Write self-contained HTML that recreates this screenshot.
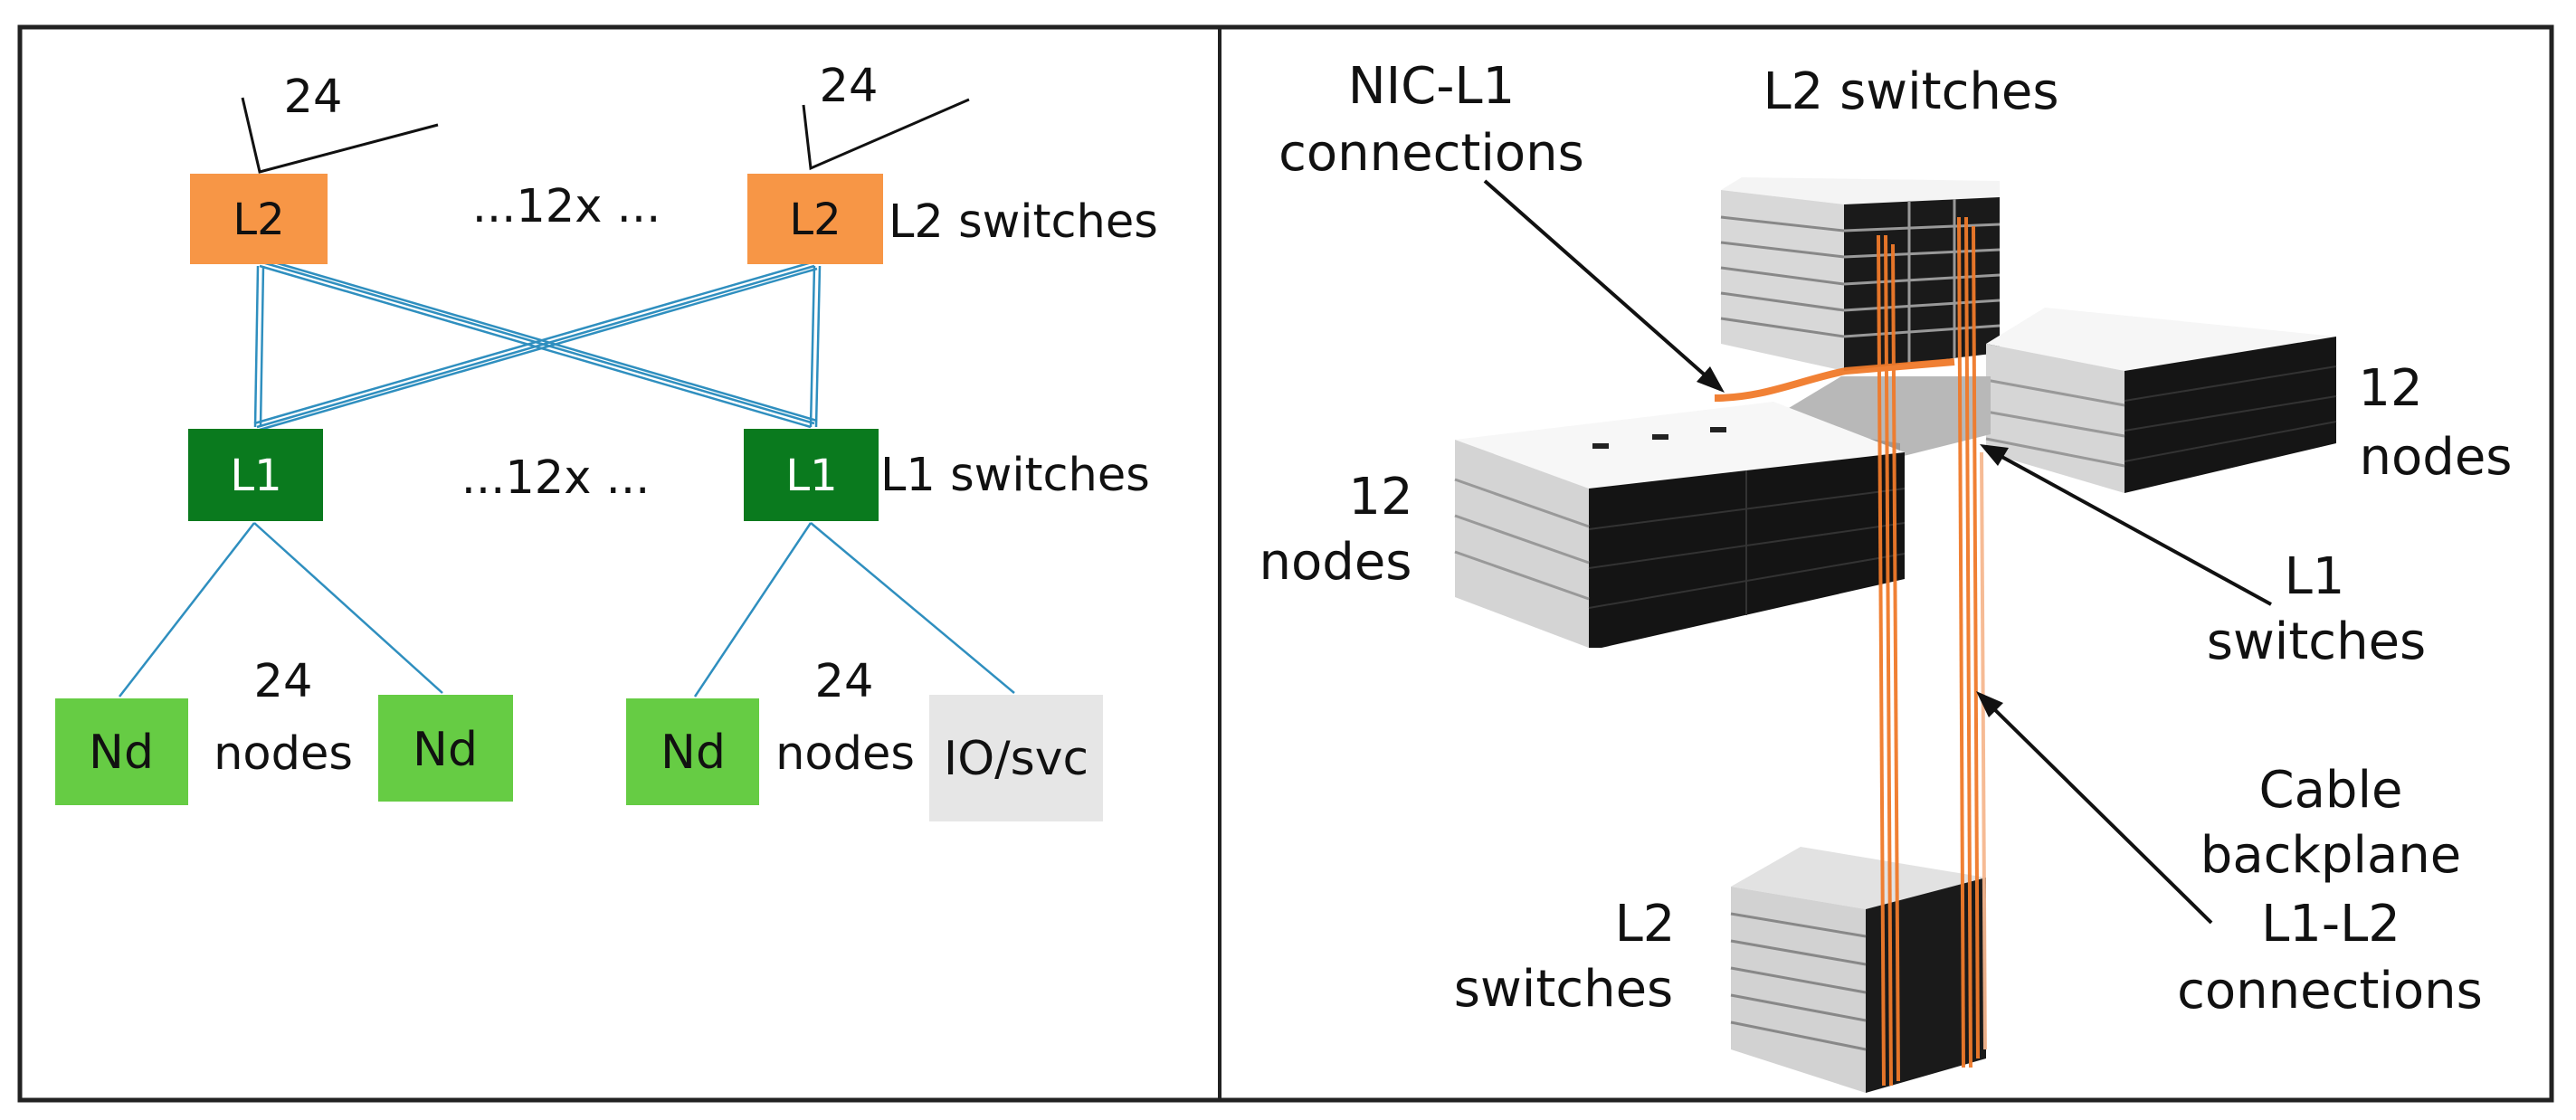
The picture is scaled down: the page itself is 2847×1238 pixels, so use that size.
<!DOCTYPE html>
<html><head><meta charset="utf-8"><style>
html,body{margin:0;padding:0;background:#fff;}
svg{display:block;}
text{font-family:"DejaVu Sans","Liberation Sans",sans-serif;fill:#111;}
</style></head><body>
<svg width="2847" height="1238" viewBox="0 0 2847 1238" xmlns="http://www.w3.org/2000/svg">
<rect x="0" y="0" width="2847" height="1238" fill="#fff"/>
<rect x="22" y="30" width="2798" height="1186" fill="none" stroke="#222" stroke-width="5"/>
<line x1="1348" y1="30" x2="1348" y2="1216" stroke="#222" stroke-width="4"/>

<!-- left panel -->
<g stroke="#111" stroke-width="3" fill="none">
<polyline points="268,108 287,190 484,138"/>
<polyline points="888,116 896,186 1071,110"/>
</g>
<g stroke="#2f8fbf" stroke-width="2.5" fill="none">
<line x1="285" y1="294" x2="282" y2="472"/><line x1="291" y1="294" x2="288" y2="472"/>
<line x1="900" y1="294" x2="896" y2="472"/><line x1="906" y1="294" x2="902" y2="472"/>
<line x1="287" y1="294" x2="896" y2="472"/><line x1="290" y1="290" x2="900" y2="468"/><line x1="293" y1="287" x2="903" y2="465"/>
<line x1="900" y1="294" x2="284" y2="472"/><line x1="897" y1="290" x2="281" y2="468"/><line x1="903" y1="297" x2="287" y2="475"/>
<line x1="281" y1="578" x2="132" y2="770"/><line x1="281" y1="578" x2="489" y2="766"/>
<line x1="896" y1="578" x2="768" y2="770"/><line x1="896" y1="578" x2="1121" y2="766"/>
</g>
<rect x="210" y="192" width="152" height="100" fill="#f79646"/>
<rect x="826" y="192" width="150" height="100" fill="#f79646"/>
<rect x="208" y="474" width="149" height="102" fill="#0a7a1e"/>
<rect x="822" y="474" width="149" height="102" fill="#0a7a1e"/>
<rect x="61" y="772" width="147" height="118" fill="#66cc44"/>
<rect x="418" y="768" width="149" height="118" fill="#66cc44"/>
<rect x="692" y="772" width="147" height="118" fill="#66cc44"/>
<rect x="1027" y="768" width="192" height="140" fill="#e6e6e6"/>
<g font-size="48" text-anchor="middle">
<text x="286" y="259">L2</text><text x="901" y="259">L2</text>
<text x="283" y="542" style="fill:#fff">L1</text><text x="897" y="542" style="fill:#fff">L1</text>
<text x="134" y="849" font-size="52">Nd</text><text x="492" y="846" font-size="52">Nd</text><text x="766" y="849" font-size="52">Nd</text>
<text x="1123" y="856" font-size="52">IO/svc</text>
</g>
<g font-size="51">
<text x="346" y="124" text-anchor="middle">24</text>
<text x="938" y="112" text-anchor="middle">24</text>
<text x="626" y="245" text-anchor="middle">...12x ...</text>
<text x="614" y="545" text-anchor="middle">...12x ...</text>
<text x="982" y="262">L2 switches</text>
<text x="973" y="542">L1 switches</text>
<text x="313" y="770" text-anchor="middle">24</text>
<text x="313" y="850" text-anchor="middle">nodes</text>
<text x="933" y="770" text-anchor="middle">24</text>
<text x="934" y="850" text-anchor="middle">nodes</text>
</g>

<!-- top L2 stack -->
<polygon points="1902,210 1925,196 2210,200 2210,218 2038,226" fill="#f4f4f4"/>
<polygon points="1902,210 2038,226 2038,410 1902,380" fill="#d8d8d8"/>
<polygon points="2038,226 2210,218 2210,390 2038,410" fill="#1a1a1a"/>
<g stroke="#888" stroke-width="3">
<line x1="1902" y1="240" x2="2038" y2="255"/><line x1="1902" y1="268" x2="2038" y2="284"/><line x1="1902" y1="296" x2="2038" y2="314"/><line x1="1902" y1="324" x2="2038" y2="343"/><line x1="1902" y1="352" x2="2038" y2="372"/>
</g>
<g stroke="#999" stroke-width="3">
<line x1="2038" y1="255" x2="2210" y2="248"/><line x1="2038" y1="284" x2="2210" y2="276"/><line x1="2038" y1="314" x2="2210" y2="304"/><line x1="2038" y1="343" x2="2210" y2="332"/><line x1="2038" y1="372" x2="2210" y2="360"/>
<line x1="2110" y1="222" x2="2110" y2="402"/><line x1="2160" y1="220" x2="2160" y2="396"/>
</g>
<!-- right 12 nodes -->
<polygon points="2195,380 2260,340 2582,372 2348,410" fill="#f6f6f6"/>
<polygon points="2195,380 2348,410 2348,545 2195,500" fill="#d6d6d6"/>
<polygon points="2348,410 2582,372 2582,490 2348,545" fill="#151515"/>
<g stroke="#999" stroke-width="3"><line x1="2195" y1="420" x2="2348" y2="448"/><line x1="2195" y1="455" x2="2348" y2="482"/><line x1="2195" y1="485" x2="2348" y2="515"/></g>
<g stroke="#333" stroke-width="2"><line x1="2348" y1="443" x2="2582" y2="405"/><line x1="2348" y1="476" x2="2582" y2="438"/><line x1="2348" y1="510" x2="2582" y2="466"/></g>
<!-- L1 plate -->
<polygon points="1962,460 2035,416 2200,416 2200,480 2100,505 1962,485" fill="#b8b8b8"/>
<polygon points="1962,470 2100,490 2100,505 1962,485" fill="#999"/>
<!-- left 12 nodes -->
<polygon points="1608,486 1960,444 2105,500 1756,540" fill="#f7f7f7"/>
<polygon points="1608,486 1756,540 1756,716 1608,660" fill="#d4d4d4"/>
<polygon points="1756,540 2105,500 2105,640 1770,716 1756,716" fill="#141414"/>
<g stroke="#999" stroke-width="3"><line x1="1608" y1="530" x2="1756" y2="582"/><line x1="1608" y1="570" x2="1756" y2="622"/><line x1="1608" y1="610" x2="1756" y2="662"/></g>
<g stroke="#333" stroke-width="2"><line x1="1756" y1="585" x2="2105" y2="540"/><line x1="1756" y1="628" x2="2105" y2="578"/><line x1="1756" y1="672" x2="2105" y2="612"/><line x1="1930" y1="520" x2="1930" y2="680"/></g>
<g fill="#222"><rect x="1760" y="490" width="18" height="6"/><rect x="1826" y="480" width="18" height="6"/><rect x="1890" y="472" width="18" height="6"/></g>
<!-- bottom L2 stack -->
<polygon points="1913,980 1990,936 2195,970 2062,1005" fill="#e2e2e2"/>
<polygon points="1913,980 2062,1005 2062,1208 1913,1160" fill="#d2d2d2"/>
<polygon points="2062,1005 2195,970 2195,1170 2062,1208" fill="#1a1a1a"/>
<g stroke="#888" stroke-width="3">
<line x1="1913" y1="1010" x2="2062" y2="1035"/><line x1="1913" y1="1040" x2="2062" y2="1066"/><line x1="1913" y1="1070" x2="2062" y2="1097"/><line x1="1913" y1="1100" x2="2062" y2="1128"/><line x1="1913" y1="1130" x2="2062" y2="1160"/>
</g>
<!-- orange cables -->
<g stroke="#f07a2a" fill="none" stroke-width="4" opacity="0.95">
<line x1="2076" y1="260" x2="2082" y2="1200"/><line x1="2084" y1="260" x2="2090" y2="1200"/><line x1="2092" y1="270" x2="2098" y2="1195"/>
<line x1="2165" y1="240" x2="2170" y2="1180"/><line x1="2173" y1="240" x2="2178" y2="1180"/><line x1="2181" y1="250" x2="2186" y2="1170"/>
<path d="M1895,440 C1950,440 1990,420 2040,410 L2160,400" stroke-width="8"/>
<line x1="2190" y1="500" x2="2194" y2="1160" stroke="#f6b890"/>
</g>
<!-- arrows -->
<g stroke="#111" stroke-width="4">
<line x1="1641" y1="200" x2="1896" y2="425"/>
<line x1="2510" y1="668" x2="2198" y2="497"/>
<line x1="2444" y1="1020" x2="2192" y2="772"/>
</g>
<polygon points="1906,434 1875,422 1890,405" fill="#111"/>
<polygon points="2188,491 2220,495 2208,515" fill="#111"/>
<polygon points="2184,764 2214,777 2198,793" fill="#111"/>

<g font-size="56" text-anchor="middle">
<text x="1582" y="114">NIC-L1</text>
<text x="1582" y="188">connections</text>
<text x="2112" y="120">L2 switches</text>
<text x="2642" y="448">12</text><text x="2692" y="524">nodes</text>
<text x="1526" y="568">12</text><text x="1476" y="640">nodes</text>
<text x="2558" y="656">L1</text><text x="2560" y="728">switches</text>
<text x="2576" y="892">Cable</text><text x="2576" y="964">backplane</text><text x="2576" y="1040">L1-L2</text><text x="2575" y="1114">connections</text>
<text x="1818" y="1040">L2</text><text x="1728" y="1112">switches</text>
</g>
</svg>
</body></html>
